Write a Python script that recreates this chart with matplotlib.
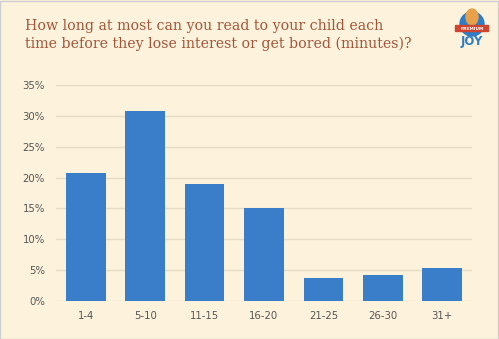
import matplotlib.pyplot as plt
import matplotlib.patches as mpatches
import numpy as np

categories = ["1-4", "5-10", "11-15", "16-20", "21-25", "26-30", "31+"]
shares = [20.8, 30.8, 19.0, 15.1, 3.7, 4.2, 5.3]
yticks = [0, 5, 10, 15, 20, 25, 30, 35]

bg_color = "#FDF3DC"
bar_color = "#3A7DC8"
title_color = "#A2553A"
text_color = "#555555"

W, H = 499, 339
fig = plt.figure(figsize=(W / 100, H / 100), dpi=100)
fig.patch.set_facecolor(bg_color)

# thin grey frame round the whole card
fig.add_artist(mpatches.Rectangle((0.001, 0.001), 0.997, 0.996, transform=fig.transFigure,
                                  fill=False, edgecolor="#CFCFCF", linewidth=1))

ax = fig.add_axes([56 / W, 1 - 301 / H, 416 / W, (301 - 85) / H])
ax.set_facecolor(bg_color)

x = np.arange(len(categories))
ax.bar(x, shares, width=0.67, color=bar_color, zorder=2)

ax.set_xlim(-0.5, len(categories) - 0.5)
ax.set_ylim(0, 35)
ax.set_yticks(yticks)
ax.set_yticklabels(["{}%".format(t) for t in yticks])
ax.set_xticks(x)
ax.set_xticklabels(categories)
ax.grid(axis="y", color="#E6DCC4", linewidth=1, zorder=0)
ax.set_axisbelow(True)

for s in ax.spines:
    ax.spines[s].set_visible(False)
ax.tick_params(axis="both", length=0, labelsize=7.3, colors=text_color)
ax.tick_params(axis="y", pad=8)
ax.tick_params(axis="x", pad=7)

fig.text(25 / W, 1 - 19 / H,
         "How long at most can you read to your child each\n"
         "time before they lose interest or get bored (minutes)?",
         family="DejaVu Serif", fontsize=10.2, color=title_color,
         ha="left", va="top", linespacing=1.35)

# small badge in the top-right corner (axes spans pixels y 6..50)
lax = fig.add_axes([452 / W, 1 - 50 / H, 40 / W, 44 / H])
lax.set_xlim(0, 40)
lax.set_ylim(0, 44)
lax.axis("off")
lax.add_patch(mpatches.Circle((20, 26), 12, color="#2F7DC4"))
lax.add_patch(mpatches.Ellipse((20, 33), 12, 16, color="#E9A04A"))
lax.add_patch(mpatches.FancyBboxPatch((4, 19), 32, 5, boxstyle="round,pad=0.5",
                                      color="#D0452F"))
lax.text(20, 21.5, "PREMIUM", fontsize=3.2, color="white", weight="bold",
         ha="center", va="center")
lax.text(20, 9, "JOY", fontsize=8.5, color="#2F7DC4", weight="bold",
         ha="center", va="center")

fig.savefig("out.png", dpi=100, facecolor=bg_color)
